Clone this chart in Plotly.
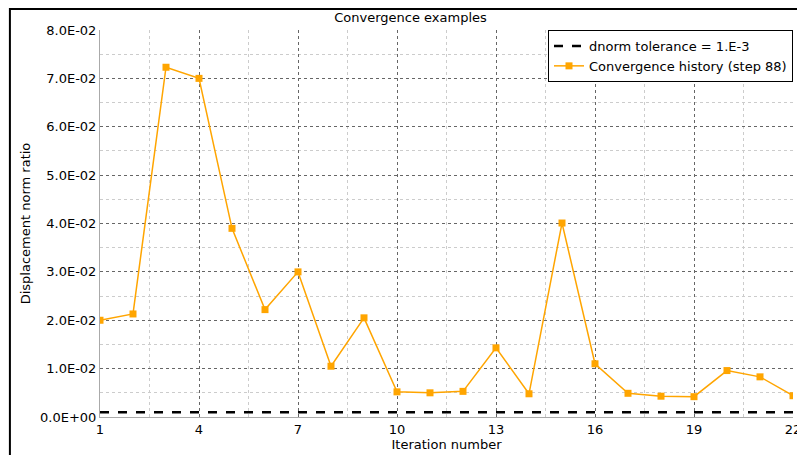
import plotly.graph_objects as go

iterations = list(range(1, 23))
history = [0.0200, 0.0213, 0.0723, 0.0700, 0.0390, 0.0222, 0.0300, 0.0105, 0.0205, 0.0052,
           0.0050, 0.0053, 0.0143, 0.0048, 0.0401, 0.0110, 0.0049, 0.0043, 0.0042, 0.0096,
           0.0083, 0.0044]
tolerance = 0.001
x_ticks = [1, 4, 7, 10, 13, 16, 19, 22]
y_ticks = [0, 0.01, 0.02, 0.03, 0.04, 0.05, 0.06, 0.07, 0.08]
y_labels = ["0.0E+00", "1.0E-02", "2.0E-02", "3.0E-02", "4.0E-02", "5.0E-02", "6.0E-02", "7.0E-02", "8.0E-02"]

fig = go.Figure()
fig.add_trace(go.Scatter(x=[1, 22], y=[tolerance, tolerance], mode="lines",
                         name="dnorm tolerance = 1.E-3",
                         line=dict(color="black", width=2.5, dash="dash")))
fig.add_trace(go.Scatter(x=iterations, y=history, mode="lines+markers",
                         name="Convergence history (step 88)",
                         line=dict(color="#ffa500", width=1.5),
                         marker=dict(symbol="square", size=7, color="#ffa500")))
grid = dict(showgrid=True, gridcolor="#666", griddash="dot", gridwidth=1)
fig.update_xaxes(range=[1, 22], tickvals=x_ticks, **grid,
                 minor=dict(dtick=1.5, tick0=1, showgrid=True, gridcolor="#ccc", griddash="dot"),
                 showline=True, linecolor="#aaa", zeroline=False, ticks="",
                 tickfont=dict(size=13), title=dict(text="Iteration number", standoff=2, font=dict(size=13)))
fig.update_yaxes(range=[0, 0.08], tickvals=y_ticks, ticktext=y_labels, **grid,
                 minor=dict(dtick=0.005, showgrid=True, gridcolor="#ccc", griddash="dot"),
                 showline=True, linecolor="#aaa", zeroline=False, ticks="",
                 tickfont=dict(size=13), title=dict(text="Displacement norm ratio", standoff=6, font=dict(size=13)))
fig.update_layout(
    width=805, height=455, paper_bgcolor="white", plot_bgcolor="white",
    font=dict(family="DejaVu Sans", size=13, color="black"),
    title=dict(text="Convergence examples", x=0.5, y=0.99, yanchor="top", font=dict(size=13)),
    margin=dict(l=92, r=13, t=22, b=46),
    legend=dict(x=1, y=1, xanchor="right", yanchor="top", bordercolor="black", borderwidth=1,
                bgcolor="white", font=dict(size=13), tracegroupgap=0),
    showlegend=True,
    shapes=[dict(type="rect", xref="paper", yref="paper", x0=-0.1300, x1=1.0165, y0=-0.1150, y1=1.0540,
                 line=dict(color="black", width=2))],
)
fig.write_html("out.html")
